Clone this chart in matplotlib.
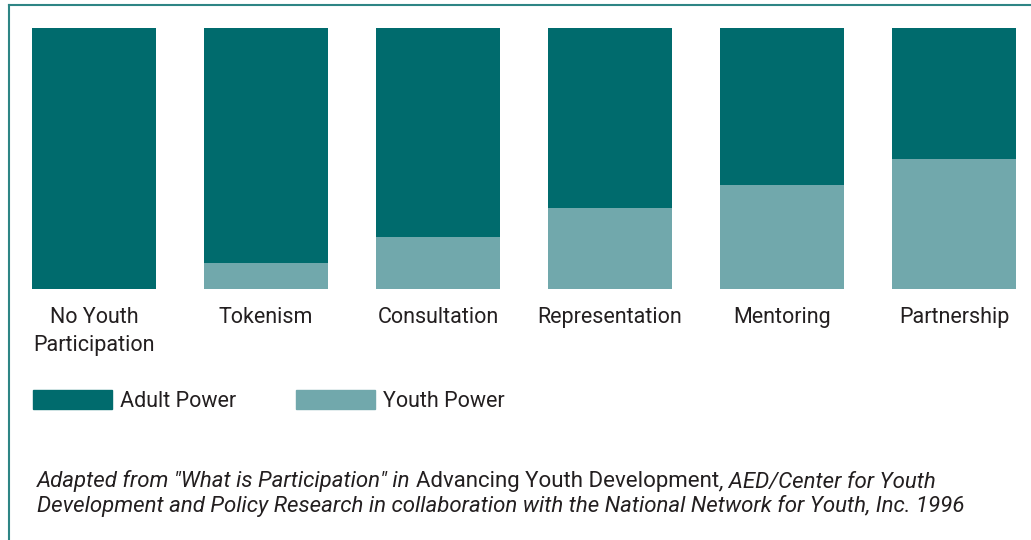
import matplotlib
matplotlib.use("Agg")
import matplotlib.pyplot as plt
from matplotlib.patches import Patch
from matplotlib.lines import Line2D

stages = ["No Youth\nParticipation", "Tokenism", "Consultation",
          "Representation", "Mentoring", "Partnership"]
youth = [0, 10, 20, 31, 40, 50]
adult = [100 - v for v in youth]

dark = "#006b6d"
light = "#71a8ac"
frame = "#2e8585"
txt = "#231f20"

plt.rcParams["font.family"] = ["Roboto", "DejaVu Sans"]

W, H = 1031, 540
fig = plt.figure(figsize=(W / 100, H / 100), dpi=100)

# bars area: bottom at 289px, top at 28px
ax = fig.add_axes([8 / W, (H - 289) / H, 1023 / W, 261 / H])
x = range(len(stages))
ax.bar(x, youth, width=124 / 172, color=light)
ax.bar(x, adult, bottom=youth, width=124 / 172, color=dark)
ax.set_xlim(-0.5, -0.5 + 1023 / 172)
ax.set_ylim(0, 100)
ax.set_xticks(list(x))
ax.set_xticklabels(stages, fontsize=15.5, color=txt, linespacing=1.45)
ax.tick_params(axis="x", length=0, pad=13)
ax.set_yticks([])
for s in ax.spines.values():
    s.set_visible(False)

# frame lines top and left
fig.add_artist(Line2D([9 / W, 1], [1 - 5 / H, 1 - 5 / H], color=frame, lw=1.5))
fig.add_artist(Line2D([9 / W, 9 / W], [0, 1 - 5 / H], color=frame, lw=1.5))

handles = [Patch(color=dark, label="Adult Power"), Patch(color=light, label="Youth Power")]
fig.legend(handles=handles, loc="upper left", bbox_to_anchor=(33 / W, 1 - 390 / H),
           ncol=2, frameon=False, fontsize=15.5, handlelength=3.65, handleheight=1.0,
           handletextpad=0.38, columnspacing=2.8, borderpad=0, borderaxespad=0,
           labelcolor=txt)

# source note, mixed italic/upright
fig.canvas.draw()
r = fig.canvas.get_renderer()
parts = [('Adapted from "What is Participation" in ', "italic"),
         ("Advancing Youth Development", "normal"),
         (", AED/Center for Youth", "italic")]
xp = 37
for s, st in parts:
    t = fig.text(xp / W, 1 - 487 / H, s, fontsize=16, style=st, color=txt, va="baseline")
    xp += t.get_window_extent(r).width
fig.text(37 / W, 1 - 512 / H,
         "Development and Policy Research in collaboration with the National Network for Youth, Inc. 1996",
         fontsize=16, style="italic", color=txt, va="baseline")

fig.savefig("out.png", dpi=100)
